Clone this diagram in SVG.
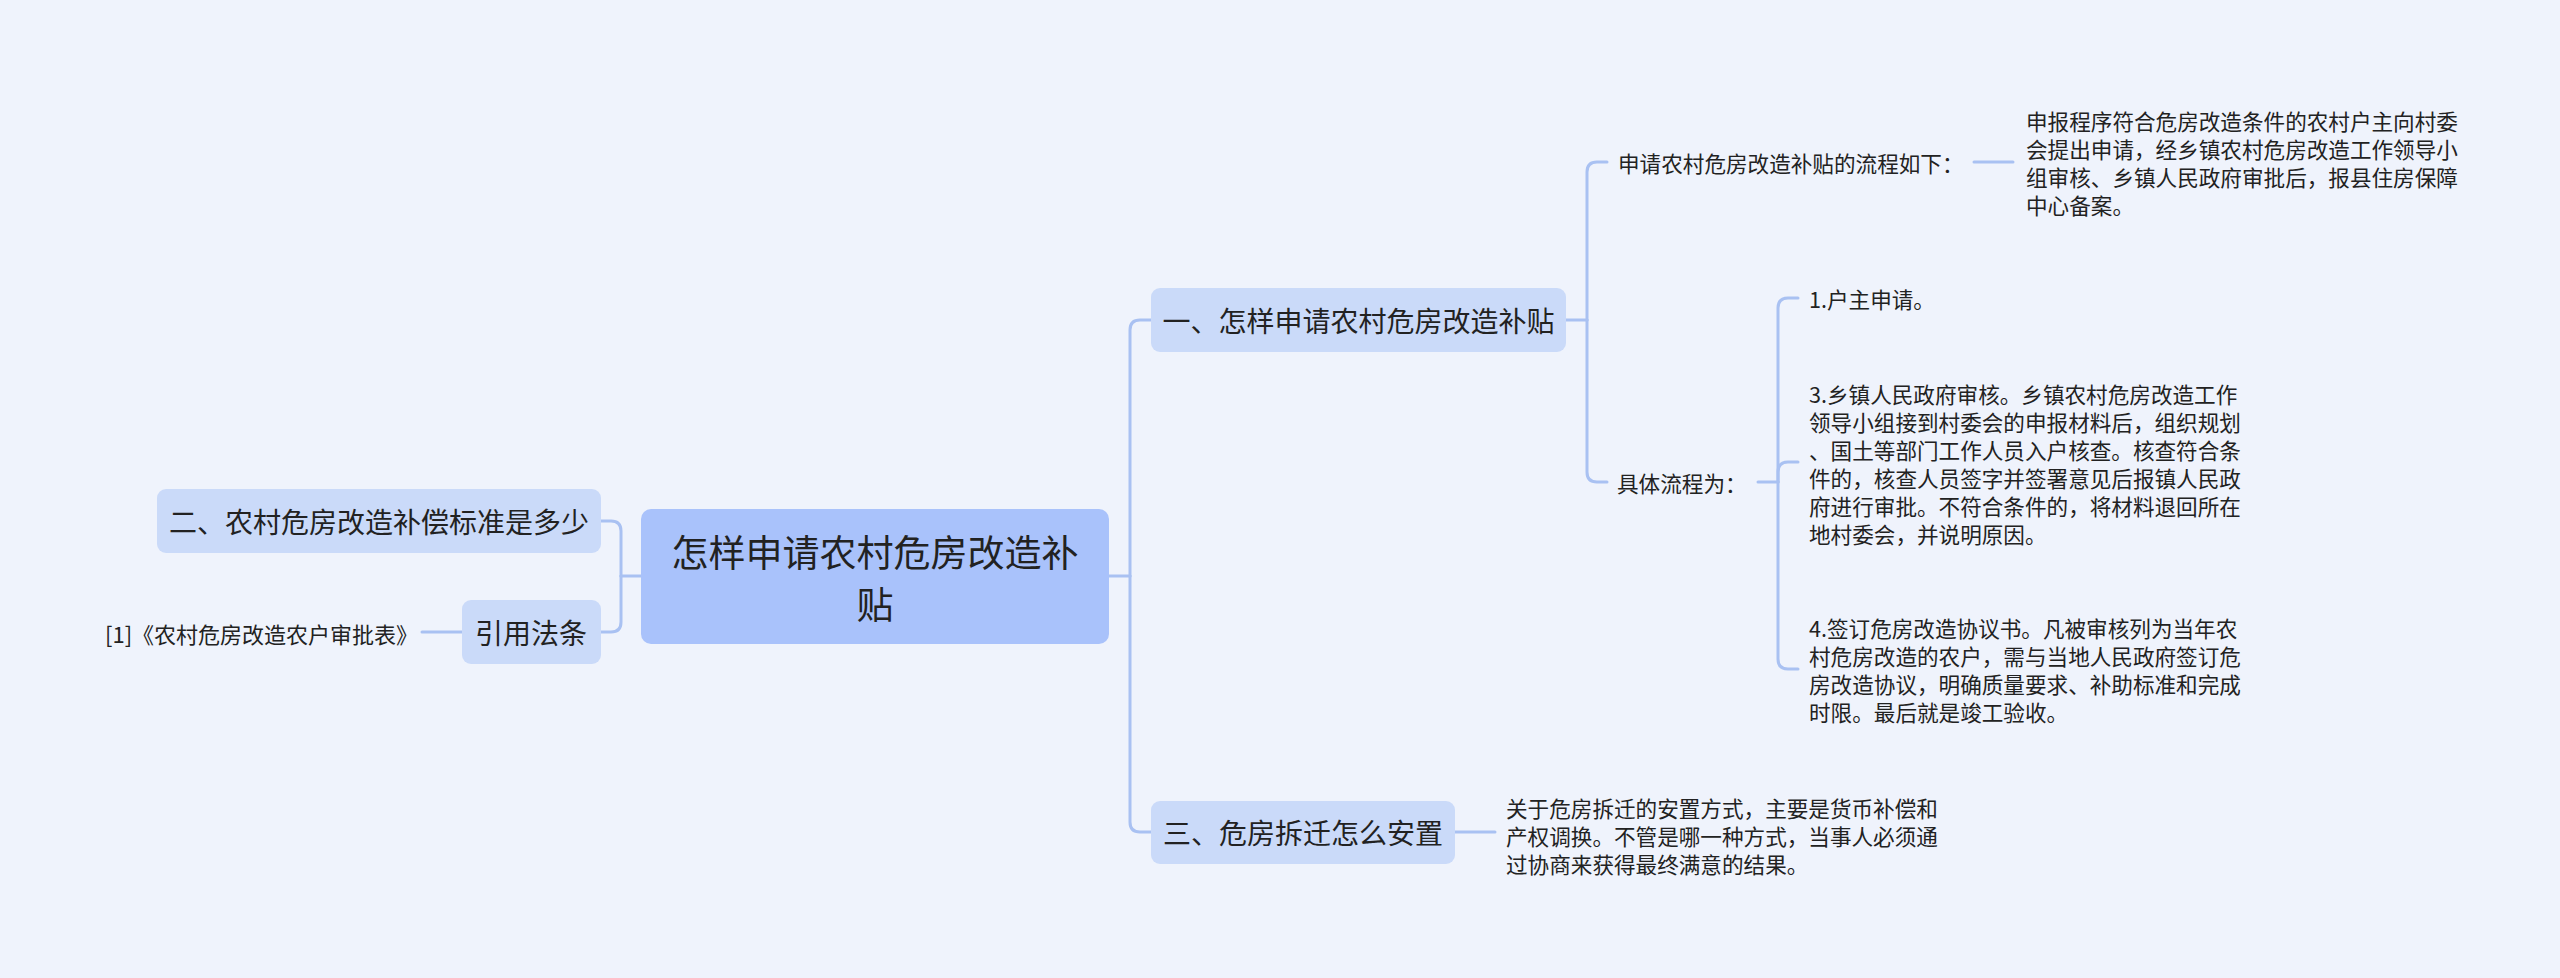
<svg xmlns="http://www.w3.org/2000/svg" width="2560" height="978" viewBox="0 0 2560 978">
<style>
text{font-family:"Microsoft YaHei","Noto Sans CJK SC","Noto Sans",sans-serif;fill:#222;dominant-baseline:central}
.root{fill:#a9c2fb}
.b1{fill:#cadaf9}
.t37{font-size:37px;text-anchor:middle}
.t28{font-size:28px;text-anchor:middle}
.t21{font-size:21.6px}
.t22{font-size:22px}
.con path{fill:none;stroke:#a9c1f2;stroke-width:3;stroke-linecap:round}
</style>
<rect width="2560" height="978" fill="#eff3fc"/>
<g class="con" id="connectors">
<path d="M1109,576 H1130"/>
<path d="M1130,576 V330 Q1130,320 1140,320 H1151"/>
<path d="M1130,576 V822 Q1130,832 1140,832 H1151"/>
<path d="M641,576 H621"/>
<path d="M621,576 V531 Q621,521 611,521 H601"/>
<path d="M621,576 V622 Q621,632 611,632 H601"/>
<path d="M462,632 H422"/>
<path d="M1566,320 H1587"/>
<path d="M1587,320 V172 Q1587,162 1597,162 H1607"/>
<path d="M1587,320 V472 Q1587,482 1597,482 H1607"/>
<path d="M1974,162 H2013"/>
<path d="M1758,482 H1778"/>
<path d="M1778,482 V308 Q1778,298 1788,298 H1798"/>
<path d="M1778,482 V472 Q1778,462 1788,462 H1798"/>
<path d="M1778,482 V659 Q1778,669 1788,669 H1798"/>
<path d="M1455,832 H1495"/>
</g>
<g id="root">
<rect class="root" x="641" y="509" width="468" height="135" rx="10"/>
<text class="t37" x="875" y="551">怎样申请农村危房改造补</text>
<text class="t37" x="875" y="603">贴</text>
</g>
<g id="n2">
<rect class="b1" x="157" y="489" width="444" height="64" rx="9"/>
<text class="t28" x="379" y="521">二、农村危房改造补偿标准是多少</text>
</g>
<g id="ref">
<rect class="b1" x="462" y="600" width="139" height="64" rx="9"/>
<text class="t28" x="531" y="632">引用法条</text>
</g>
<g id="ref-item">
<text class="t22" x="105" y="633">[1]《农村危房改造农户审批表》</text>
</g>
<g id="n1">
<rect class="b1" x="1151" y="288" width="415" height="64" rx="9"/>
<text class="t28" x="1358.5" y="320">一、怎样申请农村危房改造补贴</text>
</g>
<g id="n3">
<rect class="b1" x="1151" y="801" width="304" height="63" rx="9"/>
<text class="t28" x="1303" y="832">三、危房拆迁怎么安置</text>
</g>
<g id="n1a">
<text class="t21" x="1618" y="162">申请农村危房改造补贴的流程如下：</text>
</g>
<g id="n1a1">
<text class="t21" x="2026" y="120">申报程序符合危房改造条件的农村户主向村委</text>
<text class="t21" x="2026" y="148">会提出申请，经乡镇农村危房改造工作领导小</text>
<text class="t21" x="2026" y="176">组审核、乡镇人民政府审批后，报县住房保障</text>
<text class="t21" x="2026" y="204">中心备案。</text>
</g>
<g id="n1b">
<text class="t21" x="1617" y="482">具体流程为：</text>
</g>
<g id="n1b1">
<text class="t21" x="1809" y="298">1.户主申请。</text>
</g>
<g id="n1b2">
<text class="t21" x="1809" y="393">3.乡镇人民政府审核。乡镇农村危房改造工作</text>
<text class="t21" x="1809" y="421">领导小组接到村委会的申报材料后，组织规划</text>
<text class="t21" x="1809" y="449">、国土等部门工作人员入户核查。核查符合条</text>
<text class="t21" x="1809" y="477">件的，核查人员签字并签署意见后报镇人民政</text>
<text class="t21" x="1809" y="505">府进行审批。不符合条件的，将材料退回所在</text>
<text class="t21" x="1809" y="533">地村委会，并说明原因。</text>
</g>
<g id="n1b3">
<text class="t21" x="1809" y="627">4.签订危房改造协议书。凡被审核列为当年农</text>
<text class="t21" x="1809" y="655">村危房改造的农户，需与当地人民政府签订危</text>
<text class="t21" x="1809" y="683">房改造协议，明确质量要求、补助标准和完成</text>
<text class="t21" x="1809" y="711">时限。最后就是竣工验收。</text>
</g>
<g id="n3a">
<text class="t21" x="1506" y="807">关于危房拆迁的安置方式，主要是货币补偿和</text>
<text class="t21" x="1506" y="835">产权调换。不管是哪一种方式，当事人必须通</text>
<text class="t21" x="1506" y="863">过协商来获得最终满意的结果。</text>
</g>
</svg>
